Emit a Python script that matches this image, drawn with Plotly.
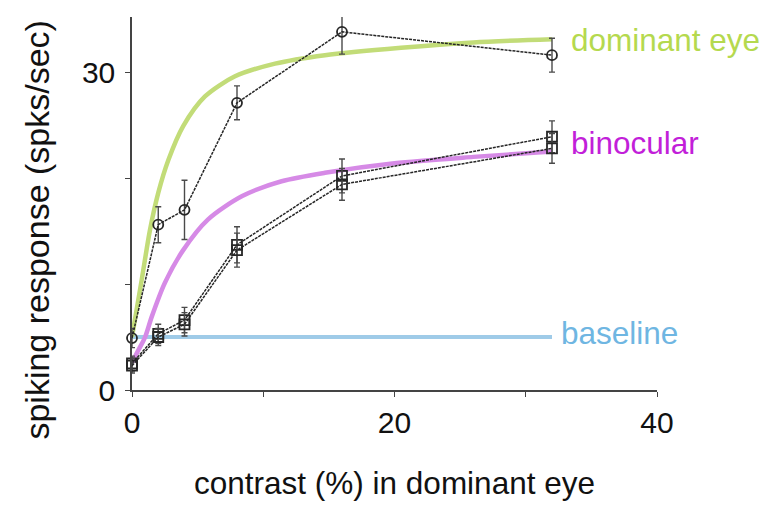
import plotly.graph_objects as go

# ---- data ----
contrast = [0, 2, 4, 8, 16, 32]
dom_resp = [4.9, 15.6, 17.0, 27.1, 33.8, 31.6]
dom_err = [0.9, 1.7, 2.8, 1.6, 2.1, 1.6]
bin_a = [2.5, 5.3, 6.6, 13.7, 20.2, 23.9]
bin_a_err = [0.7, 0.9, 1.2, 1.7, 1.6, 1.5]
bin_b = [2.3, 5.0, 6.2, 13.2, 19.4, 22.8]
bin_b_err = [0.7, 0.8, 1.1, 1.6, 1.5, 1.4]

dom_fit_x = [0, 0.74, 1.37, 2.0, 2.77, 3.9, 5.56, 7.85, 10.9, 14.7, 20.5, 26, 32]
dom_fit_y = [5.0, 10.4, 15.1, 18.6, 21.7, 24.9, 27.7, 29.6, 30.8, 31.6, 32.3, 32.8, 33.1]
bin_fit_x = [0, 0.5, 1.0, 1.5, 2.5, 3.9, 5.8, 8.4, 11.4, 14.7, 20, 26, 32]
bin_fit_y = [2.6, 3.8, 5.0, 6.9, 10.1, 13.2, 16.1, 18.3, 19.7, 20.5, 21.4, 22.0, 22.5]
base_x = [0, 32]
base_y = [5.0, 5.0]

x_ticks = [0, 10, 20, 30, 40]
x_ticklabels = ["0", "", "20", "", "40"]
y_ticks = [0, 10, 20, 30]
y_ticklabels = ["0", "", "", "30"]

GREEN_LINE = "#c2dc78"
GREEN_TEXT = "#b5d94e"
MAG_LINE = "#d68ae6"
MAG_TEXT = "#c21fd9"
BLUE_LINE = "#9fcbe8"
BLUE_TEXT = "#6fb6e2"
DATA = "#262626"
FONT = "Liberation Sans, Arial, sans-serif"

fig = go.Figure()

fig.add_trace(go.Scatter(x=base_x, y=base_y, mode="lines",
                         line=dict(color=BLUE_LINE, width=4), cliponaxis=False))
fig.add_trace(go.Scatter(x=dom_fit_x, y=dom_fit_y, mode="lines",
                         line=dict(color=GREEN_LINE, width=4.5, shape="spline", smoothing=0.8),
                         cliponaxis=False))
fig.add_trace(go.Scatter(x=bin_fit_x, y=bin_fit_y, mode="lines",
                         line=dict(color=MAG_LINE, width=4.5, shape="spline", smoothing=0.8),
                         cliponaxis=False))

for ys, es, sym in [(dom_resp, dom_err, "circle-open"),
                    (bin_a, bin_a_err, "square-open"),
                    (bin_b, bin_b_err, "square-open")]:
    fig.add_trace(go.Scatter(
        x=contrast, y=ys, mode="lines+markers",
        line=dict(color=DATA, width=1.5, dash="3px,1px"),
        marker=dict(symbol=sym, size=10, color=DATA, line=dict(width=1.8, color=DATA)),
        error_y=dict(type="data", array=es, visible=True, color="#4a4a4a",
                     thickness=1.4, width=3),
        cliponaxis=False))

ann = [("dominant eye", 33.3, 33.0, GREEN_TEXT),
       ("binocular", 33.3, 23.3, MAG_TEXT),
       ("baseline", 32.5, 5.4, BLUE_TEXT)]
for txt, ax_, ay_, col in ann:
    fig.add_annotation(x=ax_, y=ay_, text=txt, showarrow=False, xanchor="left",
                       yanchor="middle", font=dict(size=31.5, color=col, family=FONT))

# y-axis title as a rotated annotation (centred a bit below the plot middle)
fig.add_annotation(xref="paper", yref="paper", x=-0.181, y=0.43,
                   text="spiking response (spks/sec)", textangle=-90, showarrow=False,
                   xanchor="center", yanchor="middle",
                   font=dict(size=34, color="#111111", family=FONT))

axis_common = dict(showline=True, linecolor="#444444", linewidth=1.5, ticks="outside",
                   ticklen=5, tickwidth=1.3, tickcolor="#444444", showgrid=False,
                   zeroline=False, automargin=False,
                   tickfont=dict(size=30, color="#111111", family=FONT))

fig.update_xaxes(range=[0, 40], tickvals=x_ticks, ticktext=x_ticklabels,
                 title=dict(text="contrast (%) in dominant eye", standoff=34,
                            font=dict(size=31.5, color="#111111", family=FONT)),
                 **axis_common)
fig.update_yaxes(range=[0, 35.2], tickvals=y_ticks, ticktext=y_ticklabels,
                 ticklabelstandoff=4, **axis_common)

# page body adds an 8px offset, so the figure is 8px smaller and margins shifted
fig.update_layout(width=760, height=498, showlegend=False,
                  margin=dict(l=124, r=111, t=9, b=116),
                  plot_bgcolor="white", paper_bgcolor="white",
                  font=dict(family=FONT))

fig.write_html("out.html")
